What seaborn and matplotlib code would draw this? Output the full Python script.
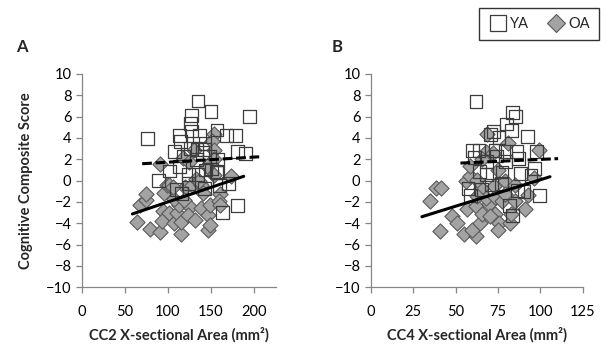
import numpy as np
import pandas as pd
import matplotlib
matplotlib.use("Agg")
import matplotlib.pyplot as plt
import seaborn as sns
from matplotlib.lines import Line2D

# panel A: CC2 area vs cognitive score
ya_cc2_x = [76, 135, 150, 194.6, 127, 126, 127.5, 113, 137, 157, 168, 178.6, 114.5, 108,
            125.7, 133.7, 142, 143, 148.5, 158, 181, 190, 102, 88.8, 124, 135, 143.5, 151,
            157.6, 170, 110, 115.6, 142, 163.8, 181, 123.5, 118, 133, 160, 113, 156.5, 140]
ya_cc2_y = [3.93, 7.46, 6.44, 5.98, 6.1, 5.36, 4.64, 4.24, 4.24, 4.74, 4.24, 4.24, 3.68, 2.72,
            3.0, 2.94, 2.88, 3.5, 2.26, 2.0, 2.7, 2.54, 0.9, -0.03, 0.6, 0.56, 1.0, 1.08,
            0.77, -0.3, -0.84, -1.2, -0.77, -3.0, -2.32, -0.28, 2.3, 2.0, -0.46, 1.3, 0.84, 2.6]
oa_cc2_x = [64.5, 79, 91, 115, 67, 74, 75, 95, 93.8, 93, 100.7, 106.5, 111, 115.6, 113, 126,
            123, 131, 138, 146.7, 149, 147, 148.5, 160, 159, 173, 98.5, 91, 100.7, 120,
            117.8, 130.8, 154, 151, 153, 153.8, 153.5, 127.5, 138, 133, 124, 141, 107, 119,
            160, 136.5, 145.6, 105.8]
oa_cc2_y = [-3.87, -4.55, -4.83, -5.05, -2.26, -1.83, -1.24, -1.21, -2.88, -3.78, -3.03, -4.0,
            -3.0, -3.87, -2.32, -2.5, -3.19, -3.68, -2.54, -3.19, -2.32, -4.6, -4.18, -1.24,
            -1.9, 0.4, -0.4, 1.58, -0.46, -0.62, 2.14, 2.88, 4.4, 3.68, 2.82, 2.0, 0.53, -0.4,
            -0.4, 0.15, 1.7, -1.18, -1.7, -1.86, -2.32, 0.0, 1.4, -0.62]
ya_cc2_trend_x = [70, 206]
ya_cc2_trend_y = [1.58, 2.23]
oa_cc2_trend_x = [58.7, 188]
oa_cc2_trend_y = [-3.13, 0.4]

# panel B: CC4 area vs cognitive score
ya_cc4_x = [62, 83.3, 85.3, 80, 82.7, 92.4, 72.5, 75.5, 70.5, 60, 63.8, 73.2, 79.2, 85.9,
            97.6, 61, 86.8, 74, 64, 77.3, 88, 96.3, 94.4, 68.4, 57.3, 58.7, 65.3, 77, 86.6,
            90.3, 99.3, 81.6, 83.5, 71, 79.2, 68]
ya_cc4_y = [7.45, 6.42, 6.0, 5.3, 4.67, 4.15, 4.6, 4.06, 4.33, 2.85, 2.8, 2.85, 2.7, 2.7,
            2.7, 2.2, 2.06, 2.3, 0.85, 0.8, 0.67, 1.15, 0.48, 0.55, -0.73, -1.42, -0.8, -0.3,
            -0.9, -1.0, -1.4, -2.33, -3.24, -0.42, 1.76, 1.76]
oa_cc4_x = [38.3, 41.3, 34.6, 40.5, 48, 51, 55, 62, 59.5, 64.3, 56.5, 62.2, 65.3, 69.5, 73.2,
            75.7, 75, 70, 82, 82.5, 91, 92.8, 68, 73, 77.3, 55.8, 58.7, 58.7, 68.4, 68, 71.8,
            81, 98.9, 95.9, 72.5, 64.7, 62.8, 74.7, 79.2, 84.8, 65.3, 62.5, 79.2, 84.8]
oa_cc4_y = [-0.67, -0.67, -1.94, -4.73, -3.33, -4.0, -4.97, -5.15, -4.6, -4.0, -2.64, -2.42,
            -3.15, -2.24, -3.15, -3.94, -4.6, -3.33, -3.94, -3.1, -2.67, -1.39, -1.64, -1.58,
            -1.88, -0.06, 0.4, 1.4, 4.33, 2.67, 2.6, 3.5, 2.85, 0.24, -0.52, -0.67, -1.42,
            0.97, -0.06, -0.42, 2.06, 0.06, -1.27, -1.88]
ya_cc4_trend_x = [52.8, 110.4]
ya_cc4_trend_y = [1.64, 2.06]
oa_cc4_trend_x = [30.1, 105.6]
oa_cc4_trend_y = [-3.39, 0.36]

sns.set_style("white")
plt.rcParams["font.family"] = ["Lato", "DejaVu Sans"]

fig = plt.figure(figsize=(6.11, 3.52), dpi=100)
ax1 = fig.add_axes([0.134, 0.184, 0.317, 0.606])
ax2 = fig.add_axes([0.607, 0.184, 0.347, 0.606])

axis_grey = "#868686"


def draw_panel(ax, ya_x, ya_y, oa_x, oa_y, ya_tx, ya_ty, oa_tx, oa_ty, xmax, xstep, xlabel):
    sns.scatterplot(x=oa_x, y=oa_y, ax=ax, marker="D", s=60, color="#a3a3a3",
                    edgecolor="#5a5a5a", linewidth=0.8, zorder=2)
    sns.scatterplot(x=ya_x, y=ya_y, ax=ax, marker="s", s=85, facecolor="none",
                    edgecolor="#3c3c3c", linewidth=0.9, zorder=3)
    sns.lineplot(x=ya_tx, y=ya_ty, ax=ax, color="black", linewidth=2.2,
                 linestyle=(0, (3.2, 1.2)), zorder=4)
    sns.lineplot(x=oa_tx, y=oa_ty, ax=ax, color="black", linewidth=2.2, zorder=4)
    ax.set_xlim(0, xmax)
    ax.set_ylim(-10, 10)
    ax.set_xticks(np.arange(0, xmax + 1, xstep) if xmax % xstep == 0 else np.arange(0, xmax, xstep))
    ax.set_yticks(np.arange(-10, 11, 2))
    for side in ["top", "right"]:
        ax.spines[side].set_visible(False)
    for side in ["left", "bottom"]:
        ax.spines[side].set_color(axis_grey)
        ax.spines[side].set_linewidth(0.9)
    ax.tick_params(axis="both", direction="out", length=4, width=0.9, color=axis_grey,
                   labelsize=10.5, labelcolor="black", left=True, bottom=True)
    ax.tick_params(axis="x", pad=9)
    ax.set_xlabel(xlabel, fontsize=10.5, fontweight="bold", labelpad=6)


draw_panel(ax1, ya_cc2_x, ya_cc2_y, oa_cc2_x, oa_cc2_y,
           ya_cc2_trend_x, ya_cc2_trend_y, oa_cc2_trend_x, oa_cc2_trend_y,
           225, 50, "CC2 X-sectional Area (mm\u00b2)")
draw_panel(ax2, ya_cc4_x, ya_cc4_y, oa_cc4_x, oa_cc4_y,
           ya_cc4_trend_x, ya_cc4_trend_y, oa_cc4_trend_x, oa_cc4_trend_y,
           125, 25, "CC4 X-sectional Area (mm\u00b2)")

ax1.set_ylabel("Cognitive Composite Score", fontsize=10.5, fontweight="bold", labelpad=9)
ax2.set_ylabel("")

fig.text(16 / 611, 1 - 47 / 352, "A", fontsize=12, fontweight="bold", va="center")
fig.text(332 / 611, 1 - 47 / 352, "B", fontsize=12, fontweight="bold", va="center")

handles = [
    Line2D([], [], marker="s", linestyle="none", markersize=11, markerfacecolor="white",
           markeredgecolor="#3c3c3c", markeredgewidth=0.9, label="YA"),
    Line2D([], [], marker="D", linestyle="none", markersize=9, markerfacecolor="#a3a3a3",
           markeredgecolor="#5a5a5a", markeredgewidth=0.8, label="OA"),
]
leg = fig.legend(handles=handles, loc="center", bbox_to_anchor=(539 / 611, 1 - 24 / 352),
                 ncol=2, frameon=True, fancybox=False, edgecolor="black", fontsize=10.5,
                 handletextpad=0.2, columnspacing=1.2, borderpad=0.6, handlelength=1.3)
leg.get_frame().set_linewidth(1.0)

fig.savefig("out.png", dpi=100)
